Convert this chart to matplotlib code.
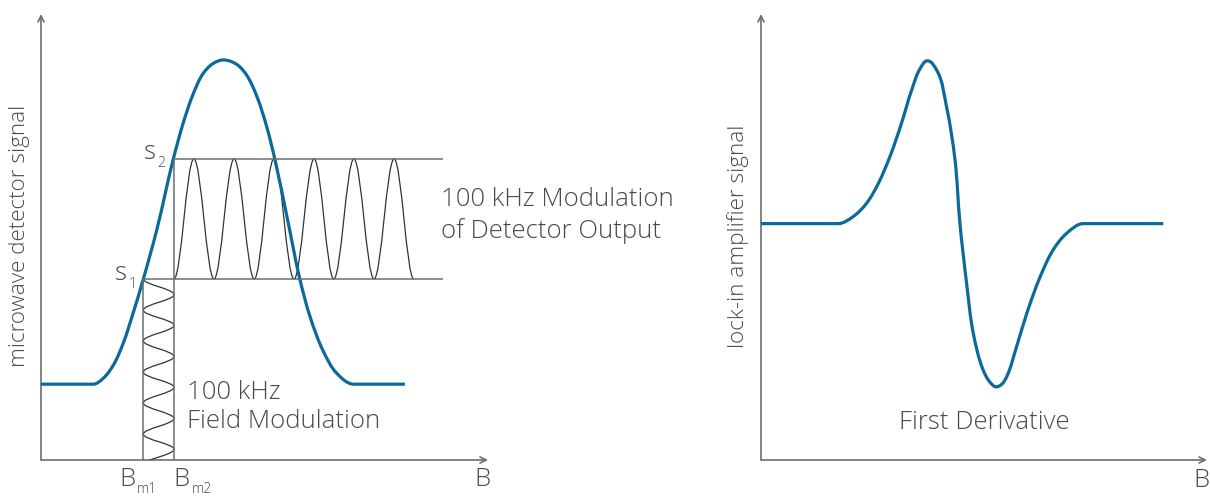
import numpy as np
import matplotlib.pyplot as plt
from matplotlib.path import Path
from matplotlib.patches import PathPatch, FancyArrowPatch

# both panels use arbitrary units 0..100 on each axis
# left panel: absorption line seen by the microwave detector
absorption_b = [0, 11.7, 13.9, 16.2, 18.4, 20.6, 22.9, 25.9, 29.6, 31.8, 34.1, 36.3, 38.5, 40.8,
                43.8, 46.0, 48.3, 50.5, 52.3, 55.1, 57.9, 60.2, 63.2, 66.2, 70.0, 81.4]
absorption_sig = [17.0, 17.0, 18.3, 21.3, 26.2, 32.9, 40.6, 51.6, 67.5, 75.5, 82.2, 86.7, 88.9, 89.7,
                  88.7, 86.3, 81.5, 74.7, 67.5, 54.2, 40.6, 32.1, 24.3, 19.4, 17.0, 17.0]

s_levels = [40.6, 67.5]          # s1, s2
bm_fields = [22.9, 29.75]        # Bm1, Bm2
level_end = 89.9

# detector output modulation (turning points)
mod_b = [29.75, 34.2, 38.7, 43.2, 47.7, 52.1, 56.6, 61.1, 65.5, 70.0, 74.5, 79.0, 83.4]
mod_sig = [40.6, 67.5, 40.6, 67.5, 40.6, 67.5, 40.6, 67.5, 40.6, 67.5, 40.6, 67.5, 40.6]

# field modulation (turning points)
field_b = [22.9, 29.75, 22.9, 29.75, 22.9, 29.75, 22.9, 29.75, 22.9, 29.75, 22.9, 29.75, 22.9]
field_sig = [40.6, 37.1, 33.6, 30.2, 26.7, 23.2, 19.7, 16.3, 12.8, 9.3, 5.8, 2.4, -1.1]

# right panel: first derivative from the lock-in amplifier
deriv_b = [0, 17.3, 20.7, 23.7, 26.3, 28.9, 31.5, 33.8, 35.7, 37.3, 39.4, 41.6, 43.5, 44.6,
           46.1, 47.6, 49.8, 51.3, 52.7, 54.0, 55.1, 57.3, 59.6, 62.6, 65.5, 68.5, 72.3, 90.2]
deriv_sig = [53.0, 53.0, 54.6, 57.6, 62.0, 68.0, 75.5, 83.0, 87.8, 89.5, 87.4, 79.2, 67.3, 53.1,
             39.6, 28.4, 20.2, 17.5, 16.4, 17.0, 18.7, 25.4, 32.9, 41.1, 47.1, 50.8, 53.0, 53.0]

BLUE = '#0b6a9a'
AXIS = '#6e6e6e'
WAVE = '#333333'
TEXT = '#4a4a4a'

plt.rcParams['font.family'] = ['Open Sans', 'DejaVu Sans']
plt.rcParams['font.weight'] = 'light'


def smooth_path(xs, ys):
    """Smooth curve through the read points (cubic Bezier, chord-scaled tangents)."""
    p = np.column_stack([xs, ys]).astype(float)
    n = len(p)
    seg = np.diff(p, axis=0)
    seg_len = np.hypot(seg[:, 0], seg[:, 1])
    unit = seg / seg_len[:, None]
    tang = np.zeros_like(p)
    tang[0], tang[-1] = unit[0], unit[-1]
    for i in range(1, n - 1):
        if seg[i - 1, 1] == 0 or seg[i, 1] == 0:
            tang[i] = [1.0, 0.0]
        else:
            t = unit[i - 1] + unit[i]
            tang[i] = t / np.hypot(*t)
    verts, codes = [p[0]], [Path.MOVETO]
    for i in range(n - 1):
        L = seg_len[i] / 3
        verts += [p[i] + tang[i] * L, p[i + 1] - tang[i + 1] * L, p[i + 1]]
        codes += [Path.CURVE4] * 3
    return Path(verts, codes)


def wave_path(xs, ys, along='x', a=0.364):
    """Half-cosine between successive turning points."""
    verts, codes = [(xs[0], ys[0])], [Path.MOVETO]
    for x0, y0, x1, y1 in zip(xs[:-1], ys[:-1], xs[1:], ys[1:]):
        if along == 'x':
            d = x1 - x0
            verts += [(x0 + a * d, y0), (x1 - a * d, y1), (x1, y1)]
        else:
            d = y1 - y0
            verts += [(x0, y0 + a * d), (x1, y1 - a * d), (x1, y1)]
        codes += [Path.CURVE4] * 3
    return Path(verts, codes)


def draw_axes(ax):
    ax.set_xlim(0, 100)
    ax.set_ylim(0, 100)
    ax.axis('off')
    for end in [(100, 0), (0, 100)]:
        ax.add_patch(FancyArrowPatch((0, 0), end, arrowstyle='->', mutation_scale=11,
                                     shrinkA=0, shrinkB=0, color=AXIS, lw=1.2, clip_on=False))


fig = plt.figure(figsize=(12.1, 4.96), dpi=100)
ax1 = fig.add_axes([41 / 1210, 36 / 496, 447 / 1210, 446 / 496])
ax2 = fig.add_axes([761 / 1210, 36 / 496, 446 / 1210, 446 / 496])

# ---- left panel
draw_axes(ax1)
ax1.hlines(s_levels, [bm_fields[0], bm_fields[1]], level_end, color=AXIS, lw=1.1)
ax1.vlines(bm_fields, 0, [s_levels[0], s_levels[1]], color=AXIS, lw=1.1)
ax1.add_patch(PathPatch(wave_path(mod_b, mod_sig, 'x'), fc='none', ec=WAVE, lw=0.9))
ax1.add_patch(PathPatch(wave_path(field_b, field_sig, 'y'), fc='none', ec=WAVE, lw=0.9))
ax1.add_patch(PathPatch(smooth_path(absorption_b, absorption_sig), fc='none', ec=BLUE,
                        lw=2.3, capstyle='butt'))

fs = 18.5
fs_lab = 16.2
fs_sub = 10
kw = dict(color=TEXT, clip_on=False)
ax1.text(-4.7, 50.2, 'microwave detector signal', rotation=90, ha='center', va='center',
         fontsize=fs_lab, **kw)
ax1.text(17.9, 41.8, 's', ha='center', va='center', fontsize=fs, **kw)
ax1.text(20.4, 39.3, '1', ha='center', va='center', fontsize=fs_sub, **kw)
ax1.text(24.3, 69.0, 's', ha='center', va='center', fontsize=fs, **kw)
ax1.text(26.8, 66.5, '2', ha='center', va='center', fontsize=fs_sub, **kw)
ax1.text(19.35, -4.4, 'B', ha='center', va='center', fontsize=fs, **kw)
ax1.text(23.6, -6.6, 'm1', ha='center', va='center', fontsize=fs_sub, **kw)
ax1.text(31.5, -4.4, 'B', ha='center', va='center', fontsize=fs, **kw)
ax1.text(35.9, -6.6, 'm2', ha='center', va='center', fontsize=fs_sub, **kw)
ax1.text(98.8, -4.4, 'B', ha='center', va='center', fontsize=fs, **kw)
ax1.text(89.5, 54.8, '100 kHz Modulation\nof Detector Output', ha='left', va='center',
         fontsize=fs, linespacing=1.28, **kw)
ax1.text(32.7, 11.8, '100 kHz\nField Modulation', ha='left', va='center',
         fontsize=fs, linespacing=1.2, **kw)

# ---- right panel
draw_axes(ax2)
ax2.add_patch(PathPatch(smooth_path(deriv_b, deriv_sig), fc='none', ec=BLUE,
                        lw=2.3, capstyle='butt'))
ax2.text(-5.2, 50.2, 'lock-in amplifier signal', rotation=90, ha='center', va='center',
         fontsize=fs_lab, **kw)
ax2.text(50.0, 8.3, 'First Derivative', ha='center', va='center', fontsize=fs, **kw)
ax2.text(98.7, -4.5, 'B', ha='center', va='center', fontsize=fs, **kw)

fig.savefig('out.png', dpi=100, facecolor='white')
